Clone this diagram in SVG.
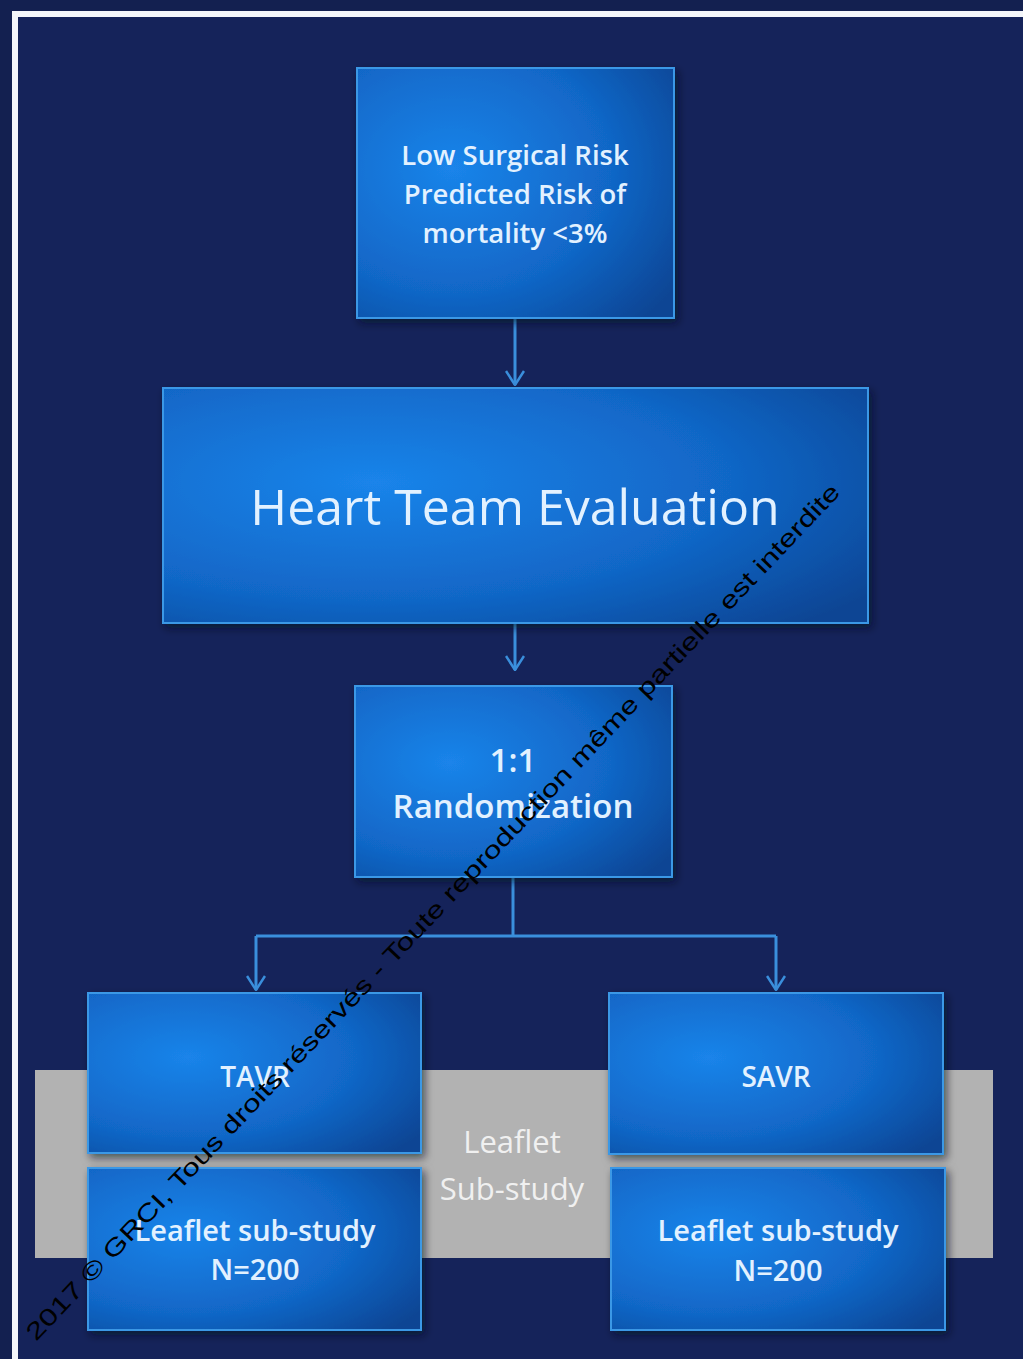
<svg xmlns="http://www.w3.org/2000/svg" width="1023" height="1359" viewBox="0 0 1023 1359">
<style>
.box{stroke:#3b98e6;stroke-width:2}
.t{font-family:"Open Sans","Liberation Sans",sans-serif;fill:#e2f1ff;text-anchor:middle;font-weight:600}
.c{fill:none;stroke:#3a8fdc;stroke-width:3}
.g{font-family:"Open Sans","Liberation Sans",sans-serif;fill:#f0f0f0;text-anchor:middle;font-size:31px}
</style>
<defs>
<radialGradient id="bg" cx="0.3" cy="0.4" r="0.85">
<stop offset="0" stop-color="#1a84ea"/>
<stop offset="0.6" stop-color="#1166c6"/>
<stop offset="1" stop-color="#0a4594"/>
</radialGradient>
<marker id="ar" viewBox="0 0 16 20" refX="15" refY="10" markerWidth="16" markerHeight="20" markerUnits="userSpaceOnUse" orient="auto">
<path d="M1 1 L15 10 L1 19" fill="none" stroke="#3a8fdc" stroke-width="2.5"/>
</marker>
<filter id="sh" x="-10%" y="-10%" width="125%" height="125%">
<feDropShadow dx="3" dy="4" stdDeviation="4" flood-color="#050a20" flood-opacity="0.6"/>
</filter>
</defs>
<rect width="1023" height="1359" fill="#132050"/>
<path d="M15 1359 V14 H1023" fill="none" stroke="#f4f6fa" stroke-width="6"/>
<rect x="18" y="17" width="1005" height="1342" fill="#15235a"/>

<g id="connectors">
<path class="c" d="M515 319 V385" marker-end="url(#ar)"/>
<path class="c" d="M515 624 V670" marker-end="url(#ar)"/>
<path class="c" d="M513 878 V936"/>
<path class="c" d="M256 936 H776"/>
<path class="c" d="M256 936 V990" marker-end="url(#ar)"/>
<path class="c" d="M776 936 V990" marker-end="url(#ar)"/>
</g>

<g id="leaflet-band">
<rect x="35" y="1070" width="958" height="188" fill="#b2b2b2"/>
<text class="g" x="512" y="1153">Leaflet</text>
<text class="g" x="512" y="1200">Sub-study</text>
</g>

<g id="low-risk">
<rect class="box" x="357" y="68" width="317" height="250" fill="url(#bg)" filter="url(#sh)"/>
<text class="t" font-size="27.5" x="515" y="165">Low Surgical Risk</text>
<text class="t" font-size="27.5" x="515" y="204">Predicted Risk of</text>
<text class="t" font-size="27.5" x="515" y="243">mortality &lt;3%</text>
</g>

<g id="heart-team">
<rect class="box" x="163" y="388" width="705" height="235" fill="url(#bg)" filter="url(#sh)"/>
<text class="t" font-size="50" x="515" y="525" style="font-weight:500">Heart Team Evaluation</text>
</g>

<g id="randomization">
<rect class="box" x="355" y="686" width="317" height="191" fill="url(#bg)" filter="url(#sh)"/>
<text class="t" font-size="33" x="513" y="772">1:1</text>
<text class="t" font-size="33" x="513" y="818">Randomization</text>
</g>

<g id="tavr">
<rect class="box" x="88" y="993" width="333" height="160" fill="url(#bg)" filter="url(#sh)"/>
<text class="t" font-size="28" x="255" y="1087">TAVR</text>
</g>
<g id="tavr-leaflet">
<rect class="box" x="88" y="1168" width="333" height="162" fill="url(#bg)" filter="url(#sh)"/>
<text class="t" font-size="29" x="255" y="1241">Leaflet sub-study</text>
<text class="t" font-size="29" x="255" y="1280">N=200</text>
</g>

<g id="savr">
<rect class="box" x="609" y="993" width="334" height="161" fill="url(#bg)" filter="url(#sh)"/>
<text class="t" font-size="28" x="776" y="1087">SAVR</text>
</g>
<g id="savr-leaflet">
<rect class="box" x="611" y="1168" width="334" height="162" fill="url(#bg)" filter="url(#sh)"/>
<text class="t" font-size="29" x="778" y="1241">Leaflet sub-study</text>
<text class="t" font-size="29" x="778" y="1281">N=200</text>
</g>

<g id="watermark">
<text x="0" y="0" transform="translate(36 1342) rotate(-46.5)" font-family="'Liberation Sans',Arial,sans-serif" font-size="24" fill="#000" textLength="1170" lengthAdjust="spacingAndGlyphs">2017 © GRCI, Tous droits réservés - Toute reproduction même partielle est interdite</text>
</g>
</svg>
